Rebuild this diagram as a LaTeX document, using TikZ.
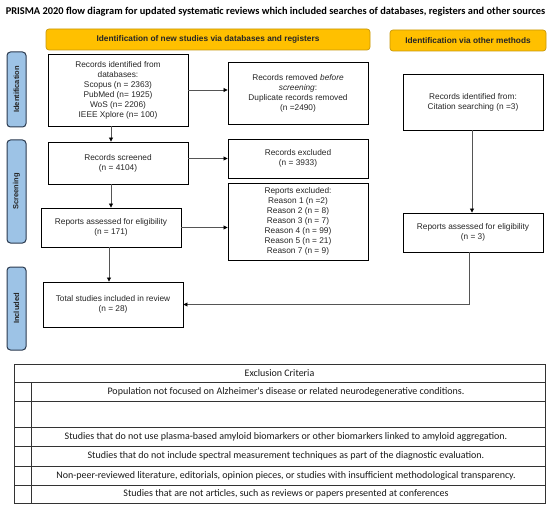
\documentclass[tikz,border=0pt]{standalone}
\usepackage{fontspec}
\setmainfont{Liberation Sans}
\newfontfamily\calib{Carlito}
\usetikzlibrary{arrows.meta,calc}
\definecolor{hdrfill}{HTML}{FFC000}
\definecolor{hdrline}{HTML}{C8980A}
\definecolor{sidefill}{HTML}{9DC3E6}
\definecolor{sideline}{HTML}{2B3A4F}
\definecolor{conn}{HTML}{555555}
\tikzset{
  box/.style={draw=black, line width=0.9pt, fill=white, align=center, inner sep=2pt,
    font=\fontsize{8.3}{10}\selectfont, text=black!85, minimum width=140pt},
  hdr/.style={draw=hdrline, line width=0.7pt, fill=hdrfill, rounded corners=3pt,
    font=\bfseries\fontsize{8.3}{9}\selectfont, text=black!85},
  side/.style={draw=sideline, line width=1pt, fill=sidefill, rounded corners=3.5pt,
    rotate=90, font=\bfseries\fontsize{7.5}{9}\selectfont, text=black!85,
    minimum height=19pt},
  arr/.style={draw=conn, line width=0.8pt, -{Triangle[length=4pt,width=4pt,color=black]}},
  tline/.style={draw=black!80, line width=0.8pt},
  ttext/.style={font=\calib\fontsize{10}{12}\selectfont, text=black!90}
}
\begin{document}
\begin{tikzpicture}[x=1pt,y=-1pt]
\useasboundingbox[fill=white] (0,0) rectangle (550,511);

\node[font=\calib\bfseries\fontsize{10.4}{12}\selectfont] (title) at (275.5,11.5)
  {PRISMA 2020 flow diagram for updated systematic reviews which included searches of databases, registers and other sources};

\node[hdr, minimum width=324pt, minimum height=21pt] (h1) at (208,39.5)
  {Identification of new studies via databases and registers};
\node[hdr, minimum width=156pt, minimum height=21pt] (h2) at (468,40.5)
  {Identification via other methods};

\node[side, minimum width=75pt] (sid) at (16.5,89.5) {Identification};
\node[side, minimum width=103pt] (sscr) at (16.5,191.5) {Screening};
\node[side, minimum width=83pt] (sinc) at (16.5,308.5) {Included};

\node[box, minimum height=72pt] (rid) at (118,90)
  {Records identified from\\databases:\\Scopus (n = 2363)\\PubMed (n= 1925)\\WoS (n= 2206)\\IEEE Xplore (n= 100)};
\node[box, minimum height=62pt] (rrem) at (298,93)
  {Records removed \textit{before}\\\textit{screening}:\\Duplicate records removed\\(n =2490)};
\node[box, minimum height=56pt] (cit) at (473,102)
  {Records identified from:\\Citation searching (n =3)};
\node[box, minimum height=42pt] (rscr) at (118,163)
  {Records screened\\(n = 4104)};
\node[box, minimum height=39pt] (rexc) at (298,158.5)
  {Records excluded\\(n = 3933)};
\node[box, minimum height=39pt] (rass) at (111,227.5)
  {Reports assessed for eligibility\\(n = 171)};
\node[box, minimum height=77pt] (repx) at (298,221.5)
  {Reports excluded:\\Reason 1 (n =2)\\Reason 2 (n = 8)\\Reason 3 (n = 7)\\Reason 4 (n = 99)\\Reason 5 (n = 21)\\Reason 7 (n = 9)};
\node[box, minimum height=39pt] (oass) at (473,232.5)
  {Reports assessed for eligibility\\(n = 3)};
\node[box, minimum height=45pt] (tot) at (113,304.5)
  {Total studies included in review\\(n = 28)};

\draw[arr] (rid.east) -- (rid.east -| rrem.west);
\draw[arr] (rass.north |- rid.south) -- (rass.north |- rscr.north);
\draw[arr] (rscr.east |- rexc.west) -- (rexc.west);
\draw[arr] (rass.north |- rscr.south) -- (rass.north);
\draw[arr] (rass.east) -- (rass.east -| repx.west);
\draw[arr] ($(rass.south)+(-2,0)$) -- ($(rass.south |- tot.north)+(-2,0)$);
\draw[arr] ($(cit.south)+(-1,0)$) -- ($(oass.north)+(-1,0)$);
\draw[arr] ($(oass.south)+(-4,0)$) |- (tot.east);

% Exclusion criteria table
\coordinate (tl) at (14,364);
\coordinate (br) at (545,503);
\draw[tline] (tl) rectangle (br);
\draw[tline] (14,382) -- (545,382);
\foreach \yy in {401,427,446,466,485} \draw[tline] (14,\yy) -- (545,\yy);
\draw[tline] (31,382) -- (31,503);
\node[ttext] (th) at (279.5,373) {Exclusion Criteria};
\node[ttext] (t1) at (286,391.5) {Population not focused on Alzheimer's disease or related neurodegenerative conditions.};
\node[ttext] (t3) at (286,436.5) {Studies that do not use plasma-based amyloid biomarkers or other biomarkers linked to amyloid aggregation.};
\node[ttext] (t4) at (286,456) {Studies that do not include spectral measurement techniques as part of the diagnostic evaluation.};
\node[ttext] (t5) at (286,475.5) {Non-peer-reviewed literature, editorials, opinion pieces, or studies with insufficient methodological transparency.};
\node[ttext] (t6) at (286,494) {Studies that are not articles, such as reviews or papers presented at conferences};
\end{tikzpicture}
\end{document}
